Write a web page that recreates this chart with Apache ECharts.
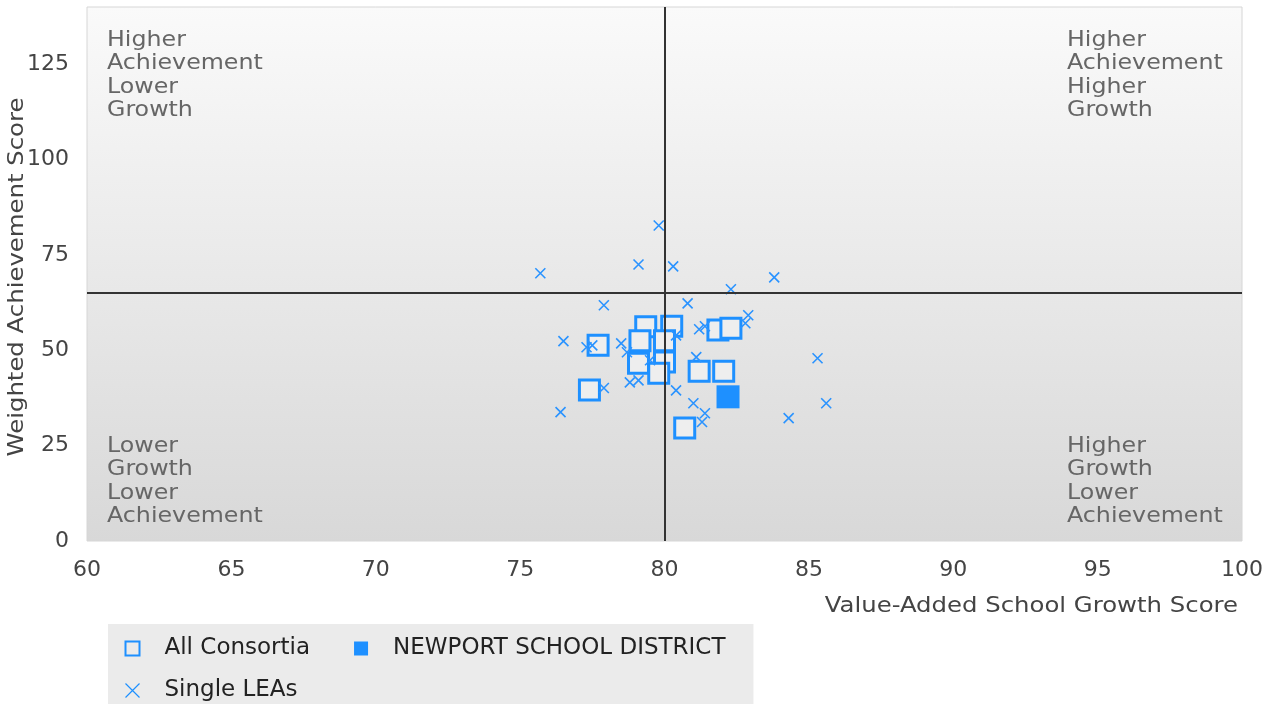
<!DOCTYPE html>
<html>
<head>
<meta charset="utf-8">
<script src="https://cdn.jsdelivr.net/npm/echarts@6/dist/echarts.min.js"></script>
<style>
html,body{margin:0;padding:0;background:#ffffff;}
#chart{width:1270px;height:704px;}
</style>
</head>
<body>
<div id="chart"></div>
<script>
// ---- data ----
const consortiaX = [79.35, 80.25, 79.15, 80.0, 77.7, 79.1, 80.0, 79.8, 81.2, 82.05, 81.85, 82.3, 77.4, 80.7];
const consortiaY = [56.2, 56.3, 52.5, 52.5, 51.3, 46.6, 46.9, 44.0, 44.5, 44.5, 55.3, 55.8, 39.6, 29.6];
const newportX = [82.2];
const newportY = [37.8];
const leaX = [79.8, 79.1, 80.3, 75.7, 83.8, 82.3, 77.9, 80.8, 82.9, 82.8, 81.2, 81.4, 76.5, 77.3, 77.5, 78.5, 78.7, 80.4, 79.5, 81.1, 85.3, 77.9, 78.8, 79.1, 80.4, 81.0, 81.4, 81.3, 85.6, 84.3, 76.4];
const leaY = [82.7, 72.5, 72.0, 70.2, 69.1, 66.0, 61.8, 62.3, 59.2, 57.1, 55.5, 56.3, 52.4, 50.8, 51.3, 51.8, 49.5, 53.9, 47.4, 48.2, 47.9, 40.1, 41.6, 42.1, 39.5, 36.1, 33.5, 31.2, 36.1, 32.2, 33.8];
const crossX = 80;
const crossY = 65;
const xTicks = [60, 65, 70, 75, 80, 85, 90, 95, 100];
const yTicks = [0, 25, 50, 75, 100, 125];
const quadrantLabels = {
  tl: 'Higher\nAchievement\nLower\nGrowth',
  tr: 'Higher\nAchievement\nHigher\nGrowth',
  bl: 'Lower\nGrowth\nLower\nAchievement',
  br: 'Higher\nGrowth\nLower\nAchievement'
};
const xTitle = 'Value-Added School Growth Score';
const yTitle = 'Weighted Achievement Score';
const seriesNames = ['All Consortia', 'NEWPORT SCHOOL DISTRICT', 'Single LEAs'];

const zip = (xs, ys) => xs.map((x, i) => [x, ys[i]]);
const FONT = '"DejaVu Sans", sans-serif';
const BLUE = '#1e90ff';
const CROSS = 'path://M0,0L10,10M10,0L0,10';

const chart = echarts.init(document.getElementById('chart'), null, {renderer: 'canvas'});
const qText = (text, x, y) => ({
  type: 'text', x: x, y: y, scaleX: 1.13, silent: true, z: 1,
  style: {text: text, fill: '#666666', font: '21px ' + FONT, lineHeight: 23.3}
});
chart.setOption({
  animation: false,
  grid: {
    left: 87, top: 7, width: 1155, height: 534,
    outerBoundsMode: 'none', containLabel: false,
    show: true, borderColor: '#d6d6d6', borderWidth: 1,
    backgroundColor: {
      type: 'linear', x: 0, y: 0, x2: 0, y2: 1,
      colorStops: [{offset: 0, color: '#fafafa'}, {offset: 1, color: '#d8d8d8'}]
    }
  },
  xAxis: {
    type: 'value', min: xTicks[0], max: xTicks[xTicks.length - 1], interval: 5,
    axisLine: {show: false}, axisTick: {show: false}, splitLine: {show: false},
    axisLabel: {color: '#444', fontFamily: 'DejaVu Sans', fontSize: 22, margin: 18}
  },
  yAxis: {
    type: 'value', min: 0, max: 140, interval: 25,
    axisLine: {show: false}, axisTick: {show: false}, splitLine: {show: false},
    axisLabel: {
      color: '#444', fontFamily: 'DejaVu Sans', fontSize: 22, margin: 18,
      formatter: v => (yTicks.indexOf(v) >= 0 ? String(v) : '')
    }
  },
  legend: {
    left: 108, top: 624, orient: 'horizontal',
    width: 700,
    padding: [13, 3, 8, 15],
    itemGap: 19, itemWidth: 14, itemHeight: 14,
    backgroundColor: '#ebebeb',
    textStyle: {color: '#222', fontFamily: 'DejaVu Sans', fontSize: 23, lineHeight: 20, padding: [0, 25, 0, 20]},
    data: [
      {name: seriesNames[0], icon: 'rect', itemStyle: {color: '#ebebeb', borderColor: BLUE, borderWidth: 2}},
      {name: seriesNames[1], icon: 'rect', itemStyle: {color: BLUE, borderWidth: 0}},
      {name: seriesNames[2], icon: CROSS, itemStyle: {color: 'none', borderColor: BLUE, borderWidth: 1.2}}
    ]
  },
  graphic: [
    qText(quadrantLabels.tl, 107, 29),
    qText(quadrantLabels.tr, 1067, 29),
    qText(quadrantLabels.bl, 107, 435),
    qText(quadrantLabels.br, 1067, 435),
    {
      type: 'text', x: 1238, y: 607, scaleX: 1.16, silent: true,
      style: {text: xTitle, fill: '#444', font: '21px ' + FONT, align: 'right', verticalAlign: 'middle'}
    },
    {
      type: 'text', x: 18, y: 277, rotation: Math.PI / 2, scaleX: 1.16, silent: true,
      style: {text: yTitle, fill: '#444', font: '21px ' + FONT, align: 'center', verticalAlign: 'middle'}
    }
  ],
  series: [
    {
      name: 'crosshair', type: 'scatter', data: [], silent: true,
      markLine: {
        silent: true, symbol: 'none', animation: false,
        label: {show: false},
        lineStyle: {color: '#333333', width: 2, type: 'solid'},
        data: [{xAxis: crossX}, {yAxis: crossY}]
      }
    },
    {
      name: seriesNames[0], type: 'scatter', symbol: 'rect', symbolSize: 20, z: 3,
      itemStyle: {color: '#eeeeee', borderColor: BLUE, borderWidth: 3, opacity: 1},
      data: zip(consortiaX, consortiaY)
    },
    {
      name: seriesNames[2], type: 'scatter', symbol: CROSS, symbolSize: 10, z: 4,
      itemStyle: {color: 'none', borderColor: '#2a93ff', borderWidth: 1.6, opacity: 1},
      data: zip(leaX, leaY)
    },
    {
      name: seriesNames[1], type: 'scatter', symbol: 'rect', symbolSize: 23, z: 5,
      itemStyle: {color: BLUE, opacity: 1},
      data: zip(newportX, newportY)
    }
  ]
});
</script>
</body>
</html>
